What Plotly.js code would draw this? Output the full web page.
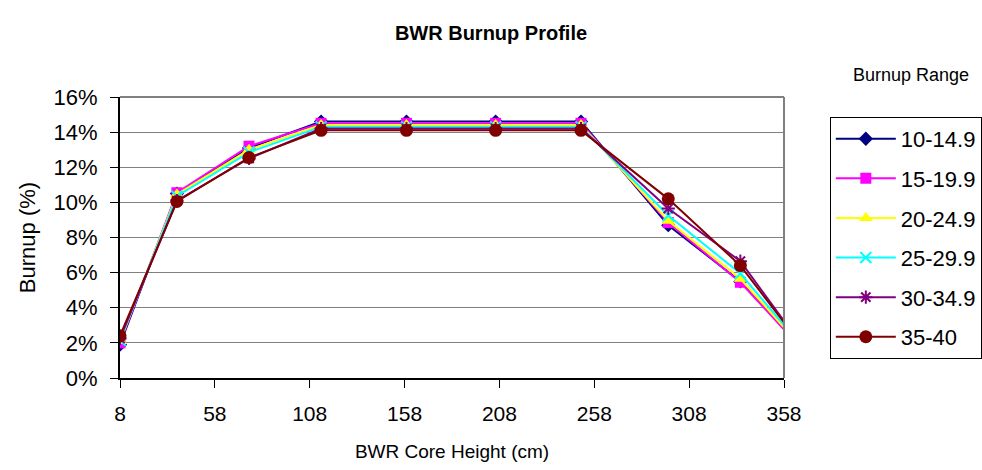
<!DOCTYPE html>
<html>
<head>
<meta charset="utf-8">
<script src="https://cdn.plot.ly/plotly-3.0.1.min.js"></script>
<style>html,body{margin:0;padding:0;background:#fff;}#chart{width:982px;height:470px;}</style>
</head>
<body>
<div id="chart"></div>
<script>
// Core height positions (cm)
const coreHeight = [8, 38, 76, 114, 159, 206, 251, 297, 335, 362];
const seriesNames = ["10-14.9", "15-19.9", "20-24.9", "25-29.9", "30-34.9", "35-40"];
// Burnup (%) per series
const burnup10 = [1.9, 10.5, 13.1, 14.6, 14.6, 14.6, 14.6, 8.7, 5.5, 2.35];
const burnup15 = [2.0, 10.55, 13.2, 14.5, 14.5, 14.5, 14.5, 8.85, 5.45, 2.3];
const burnup20 = [2.1, 10.45, 13.0, 14.4, 14.4, 14.4, 14.4, 8.95, 5.65, 2.4];
const burnup25 = [2.15, 10.35, 12.85, 14.3, 14.3, 14.3, 14.3, 9.25, 5.95, 2.5];
const burnup30 = [2.25, 10.1, 12.5, 14.2, 14.2, 14.2, 14.2, 9.65, 6.65, 2.65];
const burnup35 = [2.4, 10.05, 12.55, 14.1, 14.1, 14.1, 14.1, 10.2, 6.4, 2.6];
const xTicks = [8, 58, 108, 158, 208, 258, 308, 358];

const allSeries = [burnup10, burnup15, burnup20, burnup25, burnup30, burnup35];
const colors = ["#000080", "#FF00FF", "#FFFF00", "#00FFFF", "#800080", "#800000"];
const symbols = ["diamond", "square", "triangle-up", "x-thin-open", "asterisk-open", "circle"];
const sizes = [11, 11, 12, 11, 11, 13];

const traces = allSeries.map((s, i) => ({
  type: "scatter",
  mode: "lines+markers",
  name: seriesNames[i],
  legendgroup: "g" + i,
  x: coreHeight,
  y: s.map(v => v / 100),
  line: {color: colors[i], width: 2},
  marker: {symbol: symbols[i], size: sizes[i], color: colors[i], line: {color: colors[i], width: (i === 3 || i === 4) ? 2 : 0}},
  cliponaxis: true
}));

const layout = {
  width: 982, height: 470,
  margin: {l: 120, r: 198, t: 97, b: 92, autoexpand: false},
  paper_bgcolor: "#fff", plot_bgcolor: "#fff",
  font: {family: "Liberation Sans, Arial, sans-serif", color: "#000"},
  title: {text: "<b>BWR Burnup Profile</b>", font: {size: 20, family: "Liberation Sans, Arial, sans-serif"}, x: 0.5, xref: "container", y: 0.93, yref: "container", yanchor: "middle"},
  xaxis: {
    range: [8, 358], tickvals: xTicks, ticktext: xTicks.map(String),
    showgrid: false, zeroline: false,
    showline: true, linecolor: "#000", linewidth: 2,
    ticks: "outside", ticklen: 8, tickcolor: "#000", tickwidth: 1,
    ticklabelstandoff: 8,
    tickfont: {size: 21}, mirror: false,
    title: {text: "BWR Core Height (cm)", font: {size: 19}, standoff: 20}
  },
  yaxis: {
    range: [0, 0.16], dtick: 0.02, tickformat: ".0%",
    showgrid: true, gridcolor: "#808080", gridwidth: 1,
    zeroline: false, showline: true, linecolor: "#000", linewidth: 2,
    ticks: "outside", ticklen: 8, tickcolor: "#000",
    ticklabelstandoff: 8,
    tickfont: {size: 22},
    title: {text: "Burnup (%)", font: {size: 22}, standoff: 12}
  },
  shapes: [
    {type: "line", xref: "paper", yref: "paper", x0: 0, x1: 1, y0: 1, y1: 1, line: {color: "#808080", width: 2}},
    {type: "line", xref: "paper", yref: "paper", x0: 1, x1: 1, y0: 0, y1: 1, line: {color: "#808080", width: 2}}
  ],
  annotations: [
    {text: "Burnup Range", xref: "paper", yref: "paper", x: 1.191, y: 1.078, xanchor: "center", yanchor: "middle", showarrow: false, font: {size: 18}}
  ],
  showlegend: true,
  legend: {
    x: 1.069, y: 0.929, xanchor: "left", yanchor: "top",
    bordercolor: "#000", borderwidth: 1, bgcolor: "#fff",
    font: {size: 22}, tracegroupgap: 8, traceorder: "grouped",
    itemwidth: 60
  }
};

Plotly.newPlot("chart", traces, layout, {displayModeBar: false, staticPlot: true});
</script>
</body>
</html>
